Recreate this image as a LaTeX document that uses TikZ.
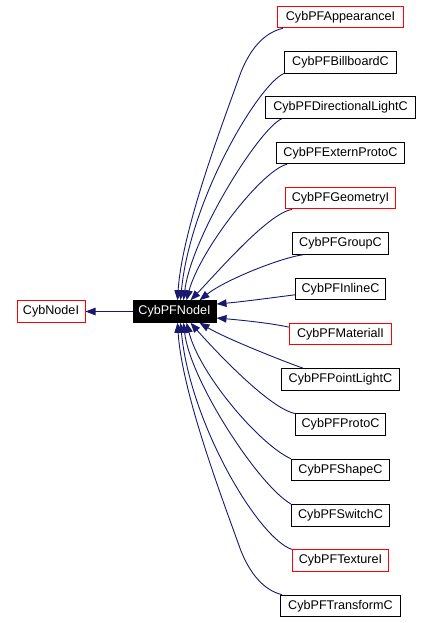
\documentclass[tikz,border=0pt]{standalone}
\usepackage{fontspec}
\setmainfont{Liberation Sans}
\usetikzlibrary{arrows.meta,calc}
\definecolor{edgeblue}{HTML}{191970}
\begin{document}
\begin{tikzpicture}[x=1pt,y=-1pt,
  cls/.style={draw=black, line width=1pt, font=\fontsize{12.6}{14}\selectfont,
    inner xsep=1pt, inner ysep=0pt, minimum height=21.5pt, minimum width=#1},
  iface/.style={cls=#1, draw=red},
  edge/.style={draw=edgeblue, line width=0.9pt, -{Triangle[length=10pt,width=7.5pt]}}]
\useasboundingbox (0,0) rectangle (431,623);
\fill[white] (0,0) rectangle (431,623);
% nodes
\node[iface=68] (cyb) at (51,311.5) {CybNodeI};
\node[cls=83, fill=black, text=white] (pf) at (174.5,311.5) {CybPFNodeI};
\node[iface=126]  (app) at (340.5,17)    {CybPFAppearanceI};
\node[cls=112.4]  (bill) at (340.5,62.3) {CybPFBillboardC};
\node[cls=150.7]  (dir) at (340.5,107.6) {CybPFDirectionalLightC};
\node[cls=127.6]  (ext) at (340.5,152.9) {CybPFExternProtoC};
\node[iface=110]  (geo) at (340.5,198.2) {CybPFGeometryI};
\node[cls=96]     (grp) at (340.5,243.5) {CybPFGroupC};
\node[cls=90]     (inl) at (340.5,288.8) {CybPFInlineC};
\node[iface=102.4] (mat) at (340.5,334.1) {CybPFMaterialI};
\node[cls=118]    (pl) at (340.5,379.4)  {CybPFPointLightC};
\node[cls=90.4]   (pro) at (340.5,424.7) {CybPFProtoC};
\node[cls=98]     (shp) at (340.5,470)   {CybPFShapeC};
\node[cls=98]     (swt) at (340.5,515.3) {CybPFSwitchC};
\node[iface=96.4] (tex) at (340.5,560.6) {CybPFTextureI};
\node[cls=120]    (trf) at (340.5,605.9) {CybPFTransformC};
% edges
\draw[edge] (pf) -- (cyb);
\draw[edge] ($(app.south west)+(6,0)$) .. controls (263,33) and (250,50) .. (241,72)
   .. controls (222,125) and (182,230) .. ($(pf.north)+(3,0)$);
\draw[edge] (bill.south west) .. controls (258,85) and (190,200) .. ($(pf.north)+(6,0)$);
\draw[edge] ($(dir.south west)+(17,0)$) .. controls (260,128) and (192,235) .. ($(pf.north)+(9,0)$);
\draw[edge] ($(ext.south west)+(11,0)$) .. controls (262,170) and (200,250) .. ($(pf.north)+(12,0)$);
\draw[edge] ($(geo.south west)+(7,0)$) .. controls (268,213) and (215,275) .. ($(pf.north)+(16,0)$);
\draw[edge] ($(grp.south west)+(11,0)$) .. controls (280,258) and (225,280) .. ($(pf.north east)+(-17,0)$);
\draw[edge] ($(inl.west)+(0,6)$) .. controls (270,298) and (240,302) .. ($(pf.east)+(0,-7.5)$);
\draw[edge] ($(mat.west)+(0,-7)$) .. controls (270,323) and (240,320) .. ($(pf.east)+(0,6.5)$);
\draw[edge] ($(pl.north west)+(22,0)$) .. controls (280,360) and (225,338) .. ($(pf.south east)+(-17,0)$);
\draw[edge] (pro.north west) .. controls (268,408) and (210,345) .. ($(pf.south)+(16,0)$);
\draw[edge] (shp.north west) .. controls (260,445) and (200,375) .. ($(pf.south)+(12,0)$);
\draw[edge] (swt.north west) .. controls (258,485) and (190,380) .. ($(pf.south)+(9,0)$);
\draw[edge] (tex.north west) .. controls (258,538) and (190,423) .. ($(pf.south)+(6,0)$);
\draw[edge] ($(trf.north west)+(2,0)$) .. controls (263,590) and (250,573) .. (241,551)
   .. controls (222,498) and (182,393) .. ($(pf.south)+(3,0)$);
\end{tikzpicture}
\end{document}
